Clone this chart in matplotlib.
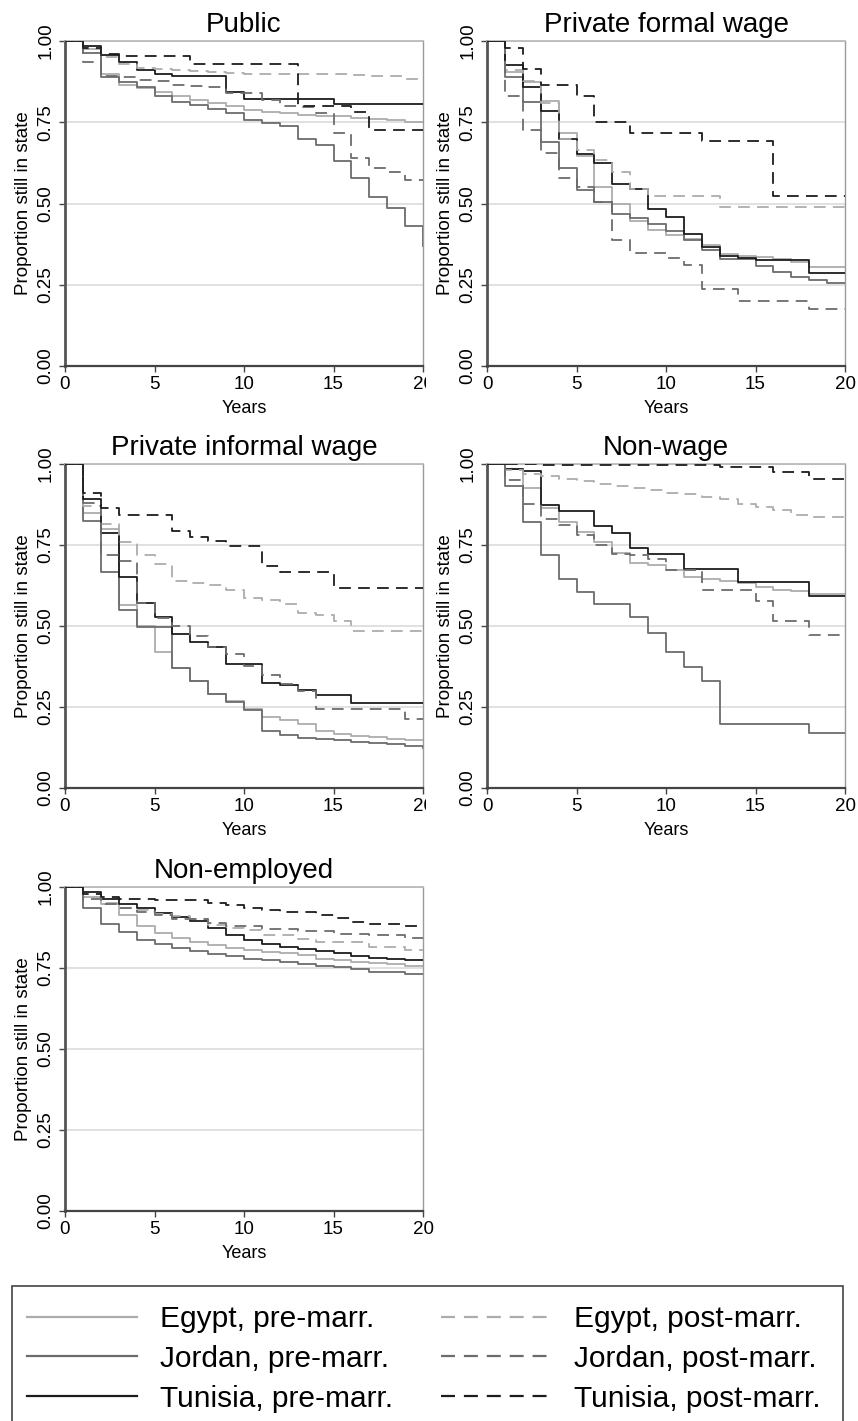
import numpy as np
import matplotlib
matplotlib.use('Agg')
import matplotlib.pyplot as plt
from matplotlib.lines import Line2D
from matplotlib.patches import Rectangle
from matplotlib.transforms import Bbox, TransformedBbox

plt.rcParams['font.family'] = ['Liberation Sans', 'DejaVu Sans']

# years since start of spell, value holds on [t, t+1)
years = np.arange(0, 21)

# Public
pub_egy_pre = [1, .975, .90, .866, .856, .843, .83, .82, .81, .80, .788, .783, .778, .773, .770, .768, .764, .760, .756, .752, .750]
pub_jor_pre = [1, .962, .89, .875, .857, .832, .812, .802, .792, .779, .758, .748, .738, .697, .680, .630, .578, .519, .486, .432, .370]
pub_tun_pre = [1, .985, .957, .936, .910, .900, .893, .893, .893, .843, .822, .822, .822, .822, .822, .805, .805, .805, .805, .805, .805]
pub_egy_post = [1, .975, .95, .928, .918, .915, .910, .908, .905, .903, .900, .900, .900, .900, .898, .897, .896, .893, .892, .882, .880]
pub_jor_post = [1, .936, .892, .888, .880, .877, .866, .862, .858, .840, .840, .820, .800, .796, .780, .717, .640, .610, .596, .571, .571]
pub_tun_post = [1, .980, .960, .954, .954, .954, .954, .930, .930, .930, .930, .930, .930, .801, .801, .801, .782, .725, .725, .725, .725]

# Private formal wage
pfw_egy_pre = [1, .905, .875, .815, .717, .645, .55, .50, .445, .42, .403, .39, .372, .345, .34, .335, .33, .32, .305, .305, .305]
pfw_jor_pre = [1, .888, .813, .69, .608, .543, .505, .469, .454, .438, .415, .387, .358, .33, .33, .307, .29, .274, .264, .256, .256]
pfw_tun_pre = [1, .925, .859, .786, .70, .653, .624, .56, .544, .483, .459, .406, .366, .338, .331, .325, .325, .325, .287, .287, .287]
pfw_egy_post = [1, .91, .878, .81, .70, .665, .633, .597, .545, .524, .524, .524, .524, .49, .49, .49, .49, .49, .49, .49, .49]
pfw_jor_post = [1, .83, .726, .654, .58, .55, .505, .388, .347, .347, .333, .31, .236, .236, .20, .20, .20, .20, .175, .175, .175]
pfw_tun_post = [1, .98, .915, .866, .866, .83, .751, .751, .717, .717, .717, .717, .693, .693, .693, .693, .522, .522, .522, .522, .522]

# Private informal wage
piw_egy_pre = [1, .85, .80, .565, .50, .42, .37, .33, .29, .268, .243, .22, .21, .198, .175, .168, .162, .158, .152, .147, .147]
piw_jor_pre = [1, .823, .668, .55, .496, .496, .37, .33, .29, .265, .24, .175, .163, .155, .15, .147, .143, .14, .137, .13, .122]
piw_tun_pre = [1, .892, .788, .65, .572, .527, .475, .452, .435, .383, .383, .324, .317, .302, .286, .286, .263, .263, .263, .263, .263]
piw_egy_post = [1, .87, .815, .758, .72, .692, .64, .633, .625, .612, .586, .579, .568, .54, .535, .516, .484, .484, .484, .484, .484]
piw_jor_post = [1, .88, .72, .70, .57, .525, .50, .468, .435, .415, .375, .348, .32, .30, .245, .245, .245, .245, .245, .213, .213]
piw_tun_post = [1, .912, .864, .843, .843, .843, .792, .776, .763, .747, .747, .686, .668, .668, .668, .616, .616, .616, .616, .616, .616]

# Non-wage
nw_egy_pre = [1, .985, .925, .865, .82, .79, .76, .725, .695, .688, .672, .652, .645, .64, .633, .62, .61, .607, .60, .60, .60]
nw_jor_pre = [1, .932, .821, .718, .644, .605, .569, .569, .528, .478, .42, .373, .329, .196, .196, .196, .196, .196, .17, .17, .17]
nw_tun_pre = [1, .984, .978, .874, .854, .854, .81, .788, .741, .723, .723, .677, .677, .677, .636, .636, .636, .636, .593, .593, .593]
nw_egy_post = [1, .98, .97, .963, .953, .948, .938, .932, .925, .92, .912, .906, .898, .893, .877, .868, .858, .843, .836, .836, .836]
nw_jor_post = [1, .951, .876, .829, .812, .782, .75, .723, .72, .707, .673, .673, .61, .61, .61, .577, .516, .516, .473, .473, .473]
nw_tun_post = [1, 1, 1, .998, .998, .998, .998, .998, .998, .998, .998, .998, .998, .99, .99, .99, .976, .976, .953, .953, .953]

# Non-employed
ne_egy_pre = [1, .969, .949, .915, .88, .858, .843, .83, .82, .812, .805, .80, .795, .79, .779, .774, .769, .764, .761, .756, .756]
ne_jor_pre = [1, .936, .885, .861, .835, .823, .813, .802, .792, .786, .779, .774, .767, .762, .757, .752, .747, .739, .737, .732, .732]
ne_tun_pre = [1, .985, .962, .949, .936, .92, .907, .894, .874, .851, .837, .825, .815, .808, .801, .796, .786, .782, .779, .776, .776]
ne_egy_post = [1, .97, .95, .936, .928, .918, .91, .90, .882, .875, .866, .851, .851, .84, .83, .83, .83, .815, .815, .807, .807]
ne_jor_post = [1, .964, .949, .936, .923, .913, .90, .90, .889, .879, .879, .869, .869, .863, .863, .856, .856, .851, .851, .844, .844]
ne_tun_post = [1, .979, .969, .964, .964, .959, .959, .959, .95, .943, .936, .928, .923, .923, .913, .904, .892, .885, .885, .879, .879]

titles = ['Public', 'Private formal wage', 'Private informal wage', 'Non-wage', 'Non-employed']
series_labels = ['Egypt, pre-marr.', 'Jordan, pre-marr.', 'Tunisia, pre-marr.',
                 'Egypt, post-marr.', 'Jordan, post-marr.', 'Tunisia, post-marr.']

panels = [
    [pub_egy_pre, pub_jor_pre, pub_tun_pre, pub_egy_post, pub_jor_post, pub_tun_post],
    [pfw_egy_pre, pfw_jor_pre, pfw_tun_pre, pfw_egy_post, pfw_jor_post, pfw_tun_post],
    [piw_egy_pre, piw_jor_pre, piw_tun_pre, piw_egy_post, piw_jor_post, piw_tun_post],
    [nw_egy_pre, nw_jor_pre, nw_tun_pre, nw_egy_post, nw_jor_post, nw_tun_post],
    [ne_egy_pre, ne_jor_pre, ne_tun_pre, ne_egy_post, ne_jor_post, ne_tun_post],
]

W, H = 858, 1421
fig = plt.figure(figsize=(W / 100, H / 100), dpi=100)

# plot regions in pixels: left, top, right, bottom
boxes = [(65, 41, 423, 366), (487, 41, 845, 366), (65, 464, 423, 788),
         (487, 464, 845, 788), (65, 887, 423, 1211)]

colors = ['#acacac', '#6c6c6c', '#1c1c1c']
dash = (0, (6.5, 4))

axes = []
for k, (x0, y0, x1, y1) in enumerate(boxes):
    ax = fig.add_axes([x0 / W, 1 - y1 / H, (x1 - x0) / W, (y1 - y0) / H])
    axes.append(ax)
    for i, vals in enumerate(panels[k]):
        ls = '-' if i < 3 else dash
        ax.plot(years, vals, drawstyle='steps-post', color=colors[i % 3],
                lw=1.3, linestyle=ls, zorder=3)
    ax.set_xlim(0, 20)
    ax.set_ylim(0, 1)
    ax.set_xticks([0, 5, 10, 15, 20])
    ax.set_yticks([0, .25, .5, .75, 1])
    ax.set_yticklabels(['0.00', '0.25', '0.50', '0.75', '1.00'])
    ax.tick_params(direction='out', length=4, width=1, color='#444444',
                   labelsize=13.5, pad=3.5)
    ax.tick_params(axis='y', labelrotation=90)
    for lbl in ax.get_yticklabels():
        lbl.set_va('center')
    ax.yaxis.grid(True, color='#dcdcdc', lw=1.2)
    ax.set_axisbelow(True)
    ax.spines['left'].set_color('#555555')
    ax.spines['left'].set_linewidth(2)
    ax.spines['bottom'].set_color('#444444')
    ax.spines['bottom'].set_linewidth(1.6)
    ax.spines['right'].set_color('#9a9a9a')
    ax.spines['right'].set_linewidth(1)
    ax.spines['top'].set_color('#b5b5b5')
    ax.spines['top'].set_linewidth(1.2)
    ax.set_ylabel('Proportion still in state', fontsize=13.5)
    ax.yaxis.set_label_coords(-0.092, 0.5)
    ax.set_xlabel('Years', fontsize=13)
    ax.xaxis.set_label_coords(0.5, -0.105)
    ax.text(0.5, 1 + 9 / 325, titles[k], transform=ax.transAxes,
            ha='center', va='baseline', fontsize=20)

# legend, its frame runs off the bottom of the picture
handles = [Line2D([], [], color=colors[i % 3], lw=1.6,
                  linestyle='-' if i < 3 else (0, (6.3, 4))) for i in range(6)]
fig.legend(handles, series_labels, ncol=2, loc='upper left',
           bbox_to_anchor=(27 / W, 1 - 1305 / H), frameon=False, fontsize=21.5,
           handlelength=3.7, handletextpad=0.75, columnspacing=1.6,
           labelspacing=0.4, borderpad=0, borderaxespad=0)
fig.add_artist(Rectangle((12 / W, -0.05), (843 - 12) / W, 1.05 - 1286 / H,
                         transform=fig.transFigure, fill=False,
                         ec='#444444', lw=1.2))

# left column was cut just right of the plot region
fig.canvas.draw()
clip = TransformedBbox(Bbox.from_extents(0, 0, 426 / W, 1), fig.transFigure)
for ax in (axes[0], axes[2]):
    for lbl in ax.get_xticklabels():
        lbl.set_clip_box(clip)
        lbl.set_clip_on(True)

fig.savefig('out.png', dpi=100)
